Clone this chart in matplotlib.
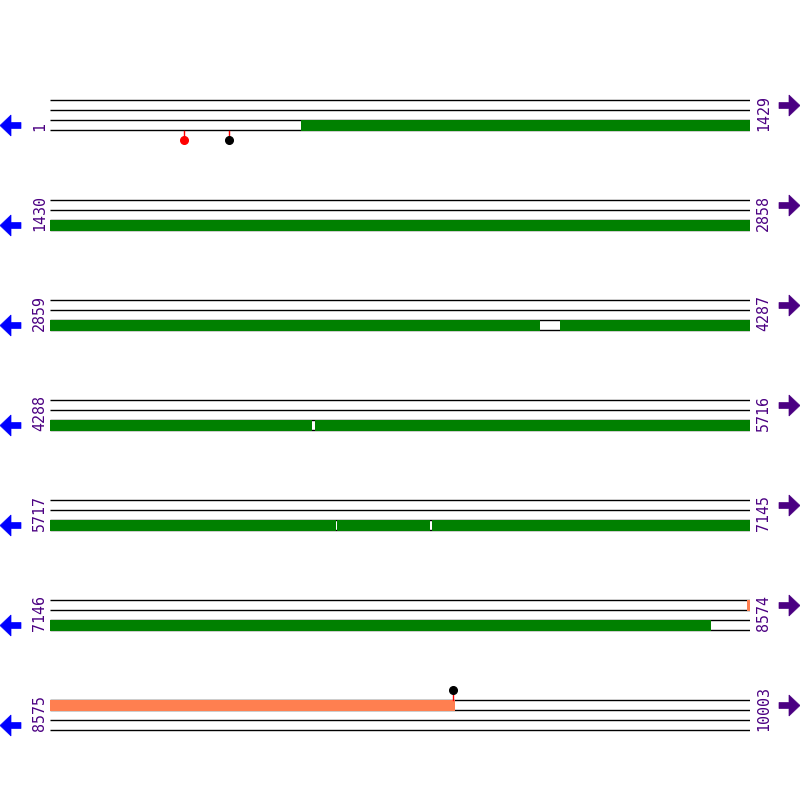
import matplotlib
matplotlib.use("Agg")
import matplotlib.pyplot as plt
from matplotlib.patches import Polygon

# sequence rows
row_len = 1429
total_len = 10003
n_rows = 7

# features (start, end) in bp
green_orf = [(514, 3859), (3900, 4821), (4829, 6300), (6303, 6491), (6497, 8495)]
orange_orf = [(8569, 9400)]
# markers (position, dot colour, side)
markers = [(274, "red", "below"), (365, "black", "below"), (9398, "black", "above")]

green = "#008000"
orange = "#FF7F50"
indigo = "#4B0082"

fig = plt.figure(figsize=(8, 8), dpi=100)
W = H = 800.0

# background axes in pixel units for labels and arrows
bg = fig.add_axes([0, 0, 1, 1])
bg.set_xlim(0, 800)
bg.set_ylim(800, 0)
bg.axis("off")


def arrow(ax, tip, yc, direction, color):
    d = direction
    pts = [(tip, yc), (tip + d * 11, yc - 10.5), (tip + d * 11, yc - 3),
           (tip + d * 21, yc - 3), (tip + d * 21, yc + 3),
           (tip + d * 11, yc + 3), (tip + d * 11, yc + 10.5)]
    ax.add_patch(Polygon(pts, closed=True, facecolor=color, edgecolor=color, lw=0.5))


for r in range(n_rows):
    start = 1 + r * row_len
    end = min(start + row_len - 1, total_len)
    top = 100 + 100 * r

    # row axes: x in bp, y in pixel offsets from the row's top line
    ax = fig.add_axes([50 / W, 1 - (top + 45) / H, 700 / W, 60 / H])
    ax.set_xlim(start - 0.5, start + row_len - 0.5)
    ax.set_ylim(45, -15)
    ax.axis("off")

    def draw(segs, y0, color):
        for s, e in segs:
            s2, e2 = max(s, start), min(e, end)
            if s2 <= e2:
                ax.broken_barh([(s2 - 0.5, e2 - s2 + 1)], (y0 - 0.5, 11),
                               facecolors=color, lw=0, zorder=3)

    for yl in (0, 10, 20, 30):
        ax.plot([start - 0.5, end + 0.5], [yl, yl], color="black", lw=1.0, zorder=2,
                solid_capstyle="butt")

    draw(orange_orf, 0, orange)
    draw(green_orf, 20, green)

    for pos, col, side in markers:
        if start <= pos <= end:
            y_line, y_dot = (30.5, 40) if side == "below" else (-0.5, -10)
            ax.plot([pos, pos], [y_line, y_dot], color="red", lw=1.0, zorder=4, clip_on=False)
            ax.plot(pos, y_dot, "o", color=col, ms=5.5, zorder=5, clip_on=False)

    bg.text(39.5, top + 31, str(start), rotation=90, ha="center", va="bottom",
            color=indigo, family="DejaVu Sans Mono", fontsize=10.8)
    bg.text(763.5, top + 31, str(end), rotation=90, ha="center", va="bottom",
            color=indigo, family="DejaVu Sans Mono", fontsize=10.8)
    arrow(bg, 0, top + 25.5, 1, "#0000FF")
    arrow(bg, 800, top + 5.5, -1, indigo)

fig.savefig("out.png", dpi=100)
